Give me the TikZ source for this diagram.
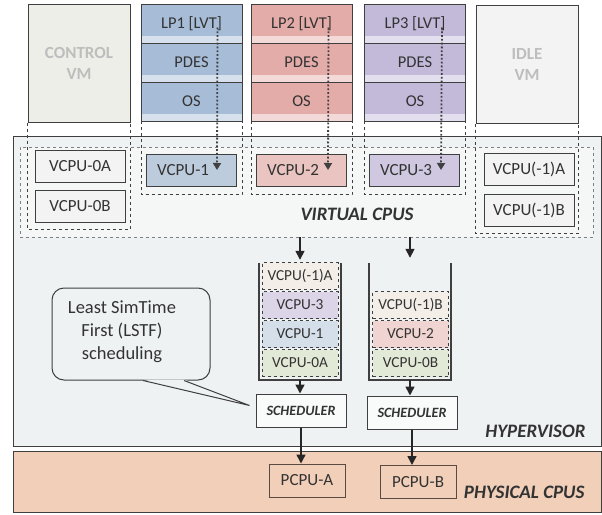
\documentclass[tikz,border=0pt]{standalone}
\usepackage{fontspec}
\setmainfont{Carlito}
\usepackage{tikz}
\usetikzlibrary{
    arrows.meta,
    positioning,
    calc
}
\usepackage{xcolor}
\definecolor{linegray}{HTML}{3F3F3F}
\definecolor{textgray}{HTML}{333333}
\definecolor{vmtext}{HTML}{BDBDBD}
\definecolor{ctrlfill}{HTML}{EEEEE9}
\definecolor{idlefill}{HTML}{F3F3F3}
\definecolor{lpblue}{HTML}{A7BDD7}
\definecolor{lpred}{HTML}{E4ACA8}
\definecolor{lppurple}{HTML}{C3B9D9}
\definecolor{vblue}{HTML}{BDCCDD}
\definecolor{vred}{HTML}{EAC4C1}
\definecolor{vpurple}{HTML}{CFC8E0}
\definecolor{hvfill}{HTML}{EFF2F2}
\definecolor{areafill}{HTML}{F5F6F6}
\definecolor{physfill}{HTML}{F1CFB8}
\definecolor{pcpuline}{HTML}{5A4A42}
\definecolor{qbeige}{HTML}{F3EFE8}
\definecolor{qgreen}{HTML}{E3E9D7}
\definecolor{qblue}{HTML}{D5DFEA}
\definecolor{qpurple}{HTML}{DCD5E8}
\definecolor{qred}{HTML}{F0D4D1}

\tikzstyle{arrow} = [
    ->,
    >={Stealth[inset=0pt, length=9pt, width=9pt]},
    line width=1.6pt,
    draw=black!85
]
\tikzstyle{lvtarrow} = [
    ->,
    >={Stealth[inset=0pt, length=7pt, width=8pt]},
    line width=1.8pt,
    dotted,
    draw=black!75
]
\tikzstyle{layerbox} = [
    draw=linegray,
    line width=1pt,
    outer sep=0pt
]
\tikzstyle{vcpuarea} = [
    draw=gray,
    dashed,
    line width=0.8pt,
    fill=areafill,
    minimum width=573pt,
    minimum height=90pt
]
\tikzstyle{vmbox} = [
    draw=linegray,
    line width=1pt,
    minimum width=102pt,
    minimum height=118pt,
    align=center,
    text=vmtext,
    font=\fontsize{17}{21}\selectfont\bfseries
]
\tikzstyle{extbox} = [
    draw=linegray,
    dashed,
    line width=0.9pt
]
\tikzstyle{vcpu} = [
    draw=linegray,
    line width=1pt,
    fill=idlefill,
    minimum width=90pt,
    minimum height=32pt,
    text=textgray,
    font=\fontsize{17}{19}\selectfont
]
\tikzstyle{lpvcpu} = [
    vcpu,
    inner xsep=11pt,
    text width=68pt,
    align=left
]
\tikzstyle{qitem} = [
    draw=linegray,
    dashed,
    line width=0.9pt,
    minimum width=76pt,
    minimum height=27pt,
    text=textgray,
    font=\fontsize{15.3}{17}\selectfont
]
\tikzstyle{queue} = [
    minimum width=82pt,
    minimum height=117pt
]
\tikzstyle{queuewall} = [
    draw=linegray,
    line width=1.8pt
]
\tikzstyle{sched} = [
    draw=linegray,
    line width=1pt,
    fill=white!60!hvfill,
    minimum width=90pt,
    minimum height=33pt,
    text=textgray,
    font=\fontsize{14.2}{16}\selectfont\bfseries\itshape
]
\tikzstyle{pcpu} = [
    draw=pcpuline,
    line width=1pt,
    fill=physfill,
    minimum width=76pt,
    minimum height=33pt,
    text=textgray,
    font=\fontsize{17}{19}\selectfont
]
\tikzstyle{title} = [
    text=textgray,
    font=\fontsize{19}{21}\selectfont\bfseries\itshape
]
\tikzstyle{callout} = [
    draw=linegray,
    line width=1pt,
    rounded corners=12pt,
    fill=hvfill,
    minimum width=158pt,
    minimum height=92pt
]
\tikzstyle{callouttext} = [
    align=center,
    text=textgray,
    font=\fontsize{18.5}{23}\selectfont
]
\tikzset{
    layer/.style={
        draw=linegray,
        line width=1pt,
        fill=#1,
        minimum width=101pt,
        minimum height=39pt,
        outer sep=0pt,
        text=textgray,
        font=\fontsize{16.5}{18}\selectfont,
        path picture={
            \fill[#1!45!white] ([yshift=7pt]path picture bounding box.south west)
                rectangle (path picture bounding box.south east);
        }
    }
}

\begin{document}
\begin{tikzpicture}[x=1pt, y=-1pt]
    \useasboundingbox (0,0) rectangle (602,514);

    % Hypervisor and physical layers
    \node[layerbox, fill=hvfill, minimum width=588pt, minimum height=310pt] (hyper) at (307,291) {};
    \node[layerbox, fill=physfill, minimum width=588pt, minimum height=61pt] (phys) at (307,481.5) {};
    \node[title, anchor=base east] (hvlabel) at (589,437) {HYPERVISOR};
    \node[title, anchor=base east] (physlabel) at (588,498) {PHYSICAL CPUS};

    % Virtual CPU area
    \node[vcpuarea] (vcpus) at (306.5,192) {};
    \node[title] (vcpulabel) at (357,214) {VIRTUAL CPUS};

    % Control VM
    \node[vmbox, fill=ctrlfill] (ctrl) at (79,63) {CONTROL\\VM};
    \node[vcpu] (v0a) at (80,166) {VCPU-0A};
    \node[vcpu] (v0b) at (80,206.5) {VCPU-0B};
    \draw[extbox] (ctrl.south west) -- ([yshift=-6pt]ctrl.west |- v0b.south)
        -- ([yshift=-6pt]ctrl.east |- v0b.south) -- (ctrl.south east);

    % LP1 stack
    \node[layer=lpblue] (lp1) at (191.5,23.5) {LP1 [LVT]};
    \node[layer=lpblue, below=0pt of lp1] (pdes1) {PDES};
    \node[layer=lpblue, below=0pt of pdes1] (os1) {OS};
    \node[lpvcpu, fill=vblue] (v1) at (191,170) {VCPU-1};
    \draw[extbox] (os1.south west) -- ([yshift=-8pt]os1.west |- v1.south)
        -- ([yshift=-8pt]os1.east |- v1.south) -- (os1.south east);

    % LP2 stack
    \node[layer=lpred] (lp2) at (301.5,23.5) {LP2 [LVT]};
    \node[layer=lpred, below=0pt of lp2] (pdes2) {PDES};
    \node[layer=lpred, below=0pt of pdes2] (os2) {OS};
    \node[lpvcpu, fill=vred] (v2) at (301,170) {VCPU-2};
    \draw[extbox] (os2.south west) -- ([yshift=-8pt]os2.west |- v2.south)
        -- ([yshift=-8pt]os2.east |- v2.south) -- (os2.south east);

    % LP3 stack
    \node[layer=lppurple] (lp3) at (415,23.5) {LP3 [LVT]};
    \node[layer=lppurple, below=0pt of lp3] (pdes3) {PDES};
    \node[layer=lppurple, below=0pt of pdes3] (os3) {OS};
    \node[lpvcpu, fill=vpurple] (v3) at (414,170) {VCPU-3};
    \draw[extbox] (os3.south west) -- ([yshift=-8pt]os3.west |- v3.south)
        -- ([yshift=-8pt]os3.east |- v3.south) -- (os3.south east);

    % Idle VM
    \node[vmbox, fill=idlefill] (idle) at (527,64) {IDLE\\VM};
    \node[vcpu] (vm1a) at (529,169) {VCPU(-1)A};
    \node[vcpu] (vm1b) at (529,210.5) {VCPU(-1)B};
    \draw[extbox] (idle.south west) -- ([yshift=-6pt]idle.west |- vm1b.south)
        -- ([yshift=-6pt]idle.east |- vm1b.south) -- (idle.south east);

    % LVT links down to the vcpus
    \draw[lvtarrow] ([xshift=26pt, yshift=-4pt]lp1.center) -- ([xshift=26pt]v1.center);
    \draw[lvtarrow] ([xshift=27pt, yshift=-4pt]lp2.center) -- ([xshift=27pt]v2.center);
    \draw[lvtarrow] ([xshift=27pt, yshift=-4pt]lp3.center) -- ([xshift=27pt]v3.center);

    % Run queue A
    \node[queue] (qA) at (300,321.5) {};
    \draw[queuewall] (qA.north west) -- (qA.south west) -- (qA.south east) -- (qA.north east);
    \node[qitem, fill=qbeige] (qa1) at (300,276) {VCPU(-1)A};
    \node[qitem, fill=qpurple] (qa2) at (300,305) {VCPU-3};
    \node[qitem, fill=qblue] (qa3) at (300,334) {VCPU-1};
    \node[qitem, fill=qgreen] (qa4) at (300,363) {VCPU-0A};

    % Run queue B
    \node[queue] (qB) at (410,321.5) {};
    \draw[queuewall] (qB.north west) -- (qB.south west) -- (qB.south east) -- (qB.north east);
    \node[qitem, fill=qbeige] (qb2) at (410.5,305) {VCPU(-1)B};
    \node[qitem, fill=qred] (qb3) at (410.5,334) {VCPU-2};
    \node[qitem, fill=qgreen] (qb4) at (410.5,363) {VCPU-0B};

    % Schedulers and physical cpus
    \node[sched] (schedA) at (301,410.5) {SCHEDULER};
    \node[sched] (schedB) at (412,412.5) {SCHEDULER};
    \node[pcpu] (pcpuA) at (307,480.5) {PCPU-A};
    \node[pcpu] (pcpuB) at (418,482) {PCPU-B};

    % Flow arrows
    \draw[arrow] (vcpus.south -| qA.north) -- ([yshift=3pt]qA.north);
    \draw[arrow] (vcpus.south -| qB.north) -- ([yshift=5pt]qB.north);
    \draw[arrow] (qA.south) -- (qA.south |- schedA.north);
    \draw[arrow] (qB.south) -- (qB.south |- schedB.north);
    \draw[arrow] (schedA.south) -- (schedA.south |- pcpuA.north);
    \draw[arrow] (schedB.south) -- (schedB.south |- pcpuB.north);

    % LSTF callout
    \node[callout] (lstf) at (131,334) {};
    \coordinate (tip) at ([xshift=-6pt, yshift=5pt]schedA.west);
    \fill[hvfill] ([xshift=12pt, yshift=1pt]lstf.south) -- (tip) -- ([xshift=53pt, yshift=1pt]lstf.south) -- cycle;
    \draw[draw=linegray, line width=1pt] ([xshift=12pt]lstf.south) -- (tip) -- ([xshift=53pt]lstf.south);
    \node[callouttext] (lstftext) at ([xshift=-9pt, yshift=2pt]lstf.center) {Least SimTime\\First (LSTF)\\scheduling};
\end{tikzpicture}
\end{document}
